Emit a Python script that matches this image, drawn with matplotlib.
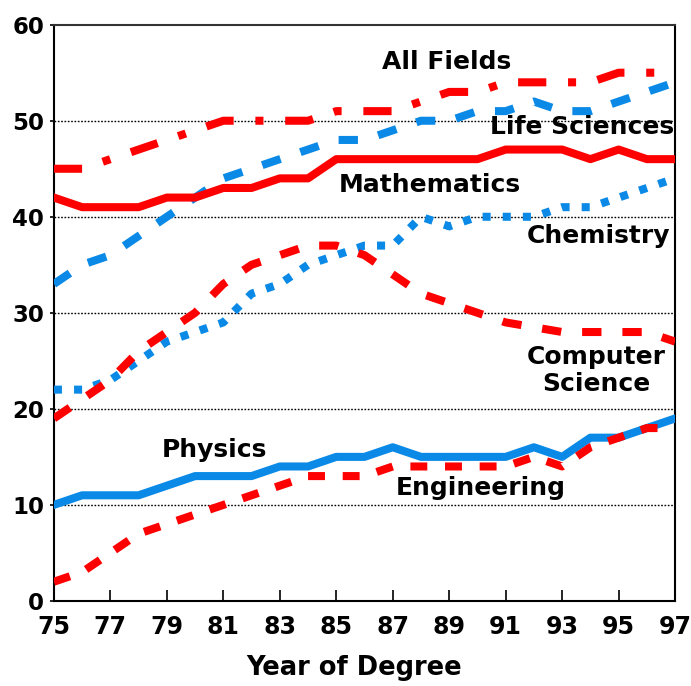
import matplotlib
matplotlib.use("Agg")
import matplotlib.pyplot as plt
import numpy as np

years = np.arange(75, 98)

all_fields = [45, 45, 46, 47, 48, 49, 50, 50, 50, 50, 51, 51, 51, 52, 53, 53, 54, 54, 54, 54, 55, 55, 55]
life_sciences = [33, 35, 36, 38, 40, 42, 44, 45, 46, 47, 48, 48, 49, 50, 50, 51, 51, 52, 51, 51, 52, 53, 54]
mathematics = [42, 41, 41, 41, 42, 42, 43, 43, 44, 44, 46, 46, 46, 46, 46, 46, 47, 47, 47, 46, 47, 46, 46]
chemistry = [22, 22, 23, 25, 27, 28, 29, 32, 33, 35, 36, 37, 37, 40, 39, 40, 40, 40, 41, 41, 42, 43, 44]
computer_science = [19, 21, 23, 26, 28, 30, 33, 35, 36, 37, 37, 36, 34, 32, 31, 30, 29, 28.5, 28, 28, 28, 28, 27]
physics = [10, 11, 11, 11, 12, 13, 13, 13, 14, 14, 15, 15, 16, 15, 15, 15, 15, 16, 15, 17, 17, 18, 19]
engineering = [2, 3, 5, 7, 8, 9, 10, 11, 12, 13, 13, 13, 14, 14, 14, 14, 14, 15, 14, 16, 17, 18, 18]

x_ticks = list(range(75, 98, 2))
y_ticks = [0, 10, 20, 30, 40, 50, 60]

RED = "#ff0000"
BLUE = "#0a8ae6"
LW = 5.8
FONT = "DejaVu Sans"

fig = plt.figure(figsize=(6.91, 6.86), dpi=100)
ax = fig.add_axes([0.078, 0.124, 0.899, 0.840])

for v in [10, 20, 30, 40, 50]:
    ax.axhline(v, color="black", lw=1, ls=(0, (1.2, 1.2)), zorder=1)

ax.plot(years, all_fields, color=RED, lw=LW, ls=(0, (3.5, 2.7, 1, 2.7)), zorder=3)
ax.plot(years, life_sciences, color=BLUE, lw=LW, ls=(0, (2.4, 2.6)), zorder=3)
ax.plot(years, mathematics, color=RED, lw=LW, ls="-", zorder=3)
ax.plot(years, chemistry, color=BLUE, lw=LW, ls=(0, (1, 1.5)), zorder=3)
ax.plot(years, computer_science, color=RED, lw=LW, ls=(0, (2.4, 2.6)), zorder=3)
ax.plot(years, physics, color=BLUE, lw=LW, ls="-", zorder=3)
ax.plot(years, engineering, color=RED, lw=LW, ls=(0, (2.1, 2.2)), zorder=4)

lab = dict(fontsize=18, fontweight="bold", family=FONT, ha="center", va="center", zorder=5)
ax.text(88.9, 56.1, "All Fields", **lab)
ax.text(93.7, 49.3, "Life Sciences", **lab)
ax.text(88.3, 43.3, "Mathematics", **lab)
ax.text(94.3, 38.0, "Chemistry", **lab)
ax.text(94.2, 24.0, "Computer\nScience", linespacing=1.2, **lab)
ax.text(80.7, 15.7, "Physics", **lab)
ax.text(90.1, 11.8, "Engineering", **lab)

ax.set_xlim(75, 97)
ax.set_ylim(0, 60)
ax.set_xticks(x_ticks)
ax.set_yticks(y_ticks)
ax.tick_params(axis="x", direction="in", length=8, width=1.2, pad=10)
ax.tick_params(axis="y", direction="out", length=3, width=1.2, pad=4)
ax.set_xticklabels([str(t) for t in x_ticks], fontsize=17, fontweight="bold", family=FONT)
ax.set_yticklabels([str(t) for t in y_ticks], fontsize=16.5, fontweight="bold", family=FONT)
ax.set_xlabel("Year of Degree", fontsize=18.5, fontweight="bold", family=FONT)
ax.xaxis.set_label_coords(0.483, -0.093)

for s in ["left", "right", "bottom", "top"]:
    ax.spines[s].set_linewidth(1.5)
ax.spines["top"].set_color("#333333")

fig.savefig("out.png", dpi=100)
